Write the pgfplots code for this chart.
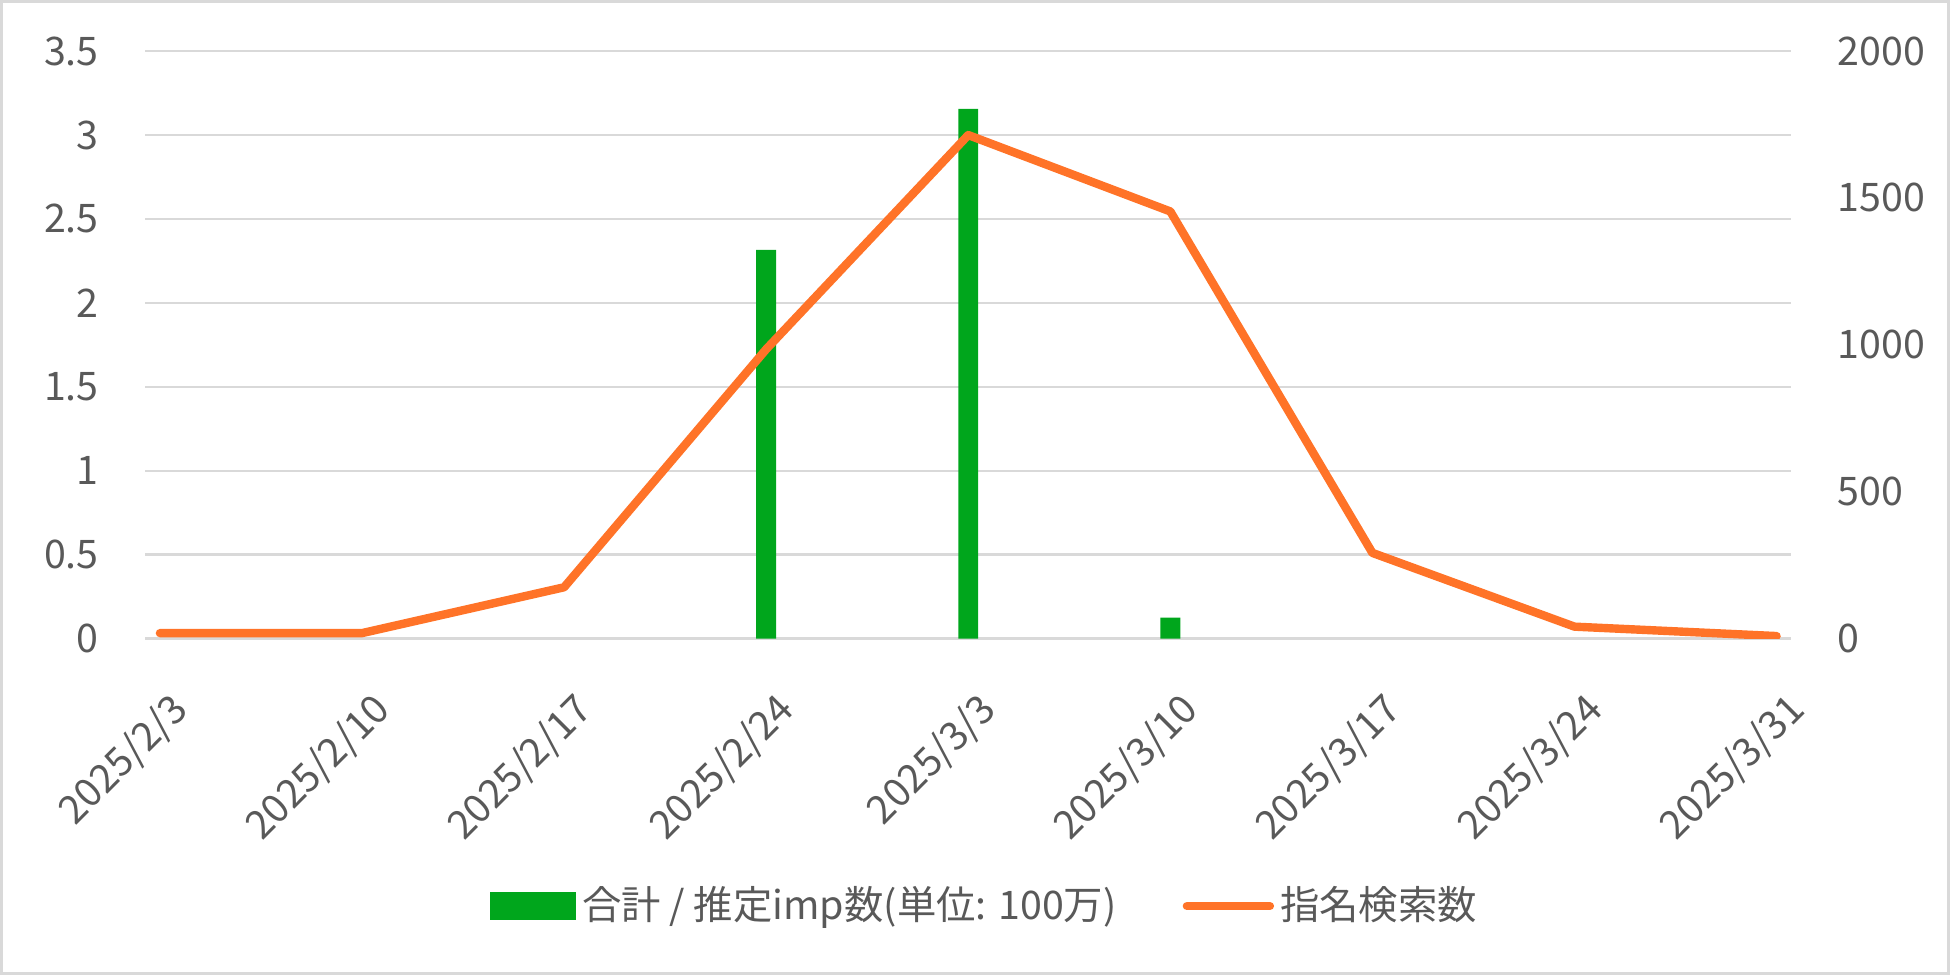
\documentclass[border=0pt]{standalone}
\usepackage{fontspec}
\setmainfont{Noto Sans CJK JP}
\usepackage{pgfplots}
\pgfplotsset{compat=1.18}
\definecolor{bargreen}{HTML}{00A61C}
\definecolor{lineorange}{HTML}{FF7328}
\definecolor{gridgray}{HTML}{D9D9D9}
\definecolor{txtgray}{HTML}{595959}
\begin{document}
\fontsize{11.2pt}{13pt}\selectfont
\begin{tikzpicture}
\useasboundingbox (0,0) rectangle (195mm,97.5mm);
\draw[gridgray, line width=0.25mm] (0.15mm,0.15mm) rectangle (194.85mm,97.35mm);
\pgfplotsset{
  common/.style={
    scale only axis, width=164.55mm, height=58.77mm,
    at={(14.55mm,33.63mm)}, anchor=south west,
    xmin=-0.5, xmax=56.5,
    axis line style={draw=none},
    major tick length=0pt,
    tick label style={font=\fontsize{11.2pt}{13pt}\selectfont, text=txtgray},
    /pgf/number format/assume math mode=true,
    /pgf/number format/1000 sep={},
  }
}
\begin{axis}[common,
  ymin=0, ymax=3.5, ytick={0,0.5,1,1.5,2,2.5,3,3.5},
  ymajorgrids, grid style={gridgray, line width=0.25mm},
  xtick={0,7,14,21,28,35,42,49,56},
  xticklabels={2025/2/3,2025/2/10,2025/2/17,2025/2/24,2025/3/3,2025/3/10,2025/3/17,2025/3/24,2025/3/31},
  xticklabel style={xshift=0.8mm, yshift=-5mm, rotate=45, anchor=north east, inner sep=0pt},
  yticklabel style={xshift=-3.3mm},
]
\addplot[ybar, bar width=0.69, fill=bargreen, draw=none] coordinates {(21,2.315) (28,3.155) (35,0.125)};
\end{axis}
\begin{axis}[common,
  axis y line*=right, axis x line=none,
  ymin=0, ymax=2000, ytick={0,500,1000,1500,2000},
  yticklabel style={xshift=3.3mm},
  legend style={at={(0.511,-0.455)}, anchor=center, draw=none, fill=none,
    legend columns=2, font=\fontsize{11.2pt}{13pt}\selectfont, text=txtgray,
    /tikz/every even column/.append style={column sep=6mm},
    nodes={inner sep=0.6mm}},
]
\addlegendimage{legend image code/.code={\fill[bargreen] (0mm,-1.35mm) rectangle (8.5mm,1.35mm);}}
\addlegendentry{合計 / 推定imp数(単位: 100万)}
\addplot[lineorange, line width=0.84mm, line join=round, line cap=round,
  legend image code/.code={\draw[lineorange, line width=0.84mm, line cap=round] (0.4mm,0mm) -- (8.7mm,0mm);}]
  coordinates {(0,19) (7,19) (14,175) (21,985) (28,1714) (35,1454) (42,292) (49,41) (56,9)};
\addlegendentry{指名検索数}
\end{axis}
\end{tikzpicture}
\end{document}
